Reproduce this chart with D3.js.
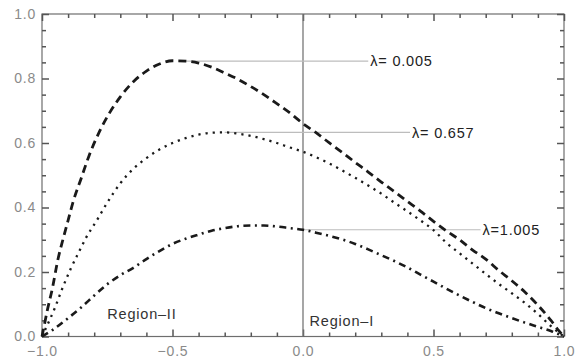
<!DOCTYPE html>
<html>
<head>
<meta charset="utf-8">
<script src="https://cdn.jsdelivr.net/npm/d3@7"></script>
<style>
  body { margin: 0; background: #fff; }
  svg { display: block; }
  .tick text { font-family: "Liberation Sans", Arial, sans-serif; font-size: 14px; letter-spacing: 0.8px; fill: #8a8a8a; }
  .tick line { stroke: #555; stroke-width: 1.5; }
  .lbl { font-family: "Liberation Sans", Arial, sans-serif; font-size: 14.5px; letter-spacing: 0.8px; fill: #222; }
</style>
</head>
<body>
<div id="chart"></div>
<script>
// values
const xs005 = [-1, -0.99, -0.98, -0.96, -0.94, -0.92, -0.90, -0.88, -0.85, -0.82, -0.78, -0.74, -0.70, -0.65, -0.60, -0.55, -0.50, -0.45, -0.40, -0.35, -0.30, -0.25, -0.20, -0.15, -0.10, -0.05, 0, 0.05, 0.10, 0.15, 0.20, 0.25, 0.30, 0.35, 0.40, 0.45, 0.50, 0.55, 0.60, 0.65, 0.70, 0.75, 0.80, 0.85, 0.90, 0.95, 0.98, 1];
const ys005 = [0, 0.04, 0.08, 0.15, 0.235, 0.30, 0.36, 0.42, 0.49, 0.56, 0.635, 0.695, 0.743, 0.79, 0.823, 0.845, 0.855, 0.854, 0.848, 0.835, 0.817, 0.798, 0.775, 0.75, 0.722, 0.693, 0.66, 0.632, 0.601, 0.571, 0.54, 0.51, 0.479, 0.449, 0.419, 0.389, 0.357, 0.327, 0.30, 0.268, 0.24, 0.205, 0.173, 0.138, 0.097, 0.05, 0.018, 0];

const xs657 = [-1, -0.98, -0.95, -0.925, -0.89, -0.86, -0.83, -0.79, -0.75, -0.70, -0.65, -0.60, -0.55, -0.50, -0.45, -0.40, -0.35, -0.30, -0.25, -0.20, -0.15, -0.10, -0.05, 0, 0.05, 0.10, 0.15, 0.20, 0.25, 0.30, 0.35, 0.40, 0.45, 0.50, 0.55, 0.60, 0.65, 0.70, 0.75, 0.80, 0.85, 0.90, 0.95, 1];
const ys657 = [0, 0.035, 0.09, 0.143, 0.21, 0.26, 0.308, 0.36, 0.415, 0.475, 0.52, 0.553, 0.58, 0.60, 0.615, 0.626, 0.632, 0.633, 0.629, 0.622, 0.612, 0.60, 0.586, 0.573, 0.556, 0.537, 0.515, 0.492, 0.468, 0.443, 0.415, 0.388, 0.36, 0.33, 0.29, 0.258, 0.226, 0.194, 0.163, 0.134, 0.104, 0.07, 0.032, 0];

const xs1005 = [-1, -0.96, -0.90, -0.85, -0.80, -0.75, -0.70, -0.65, -0.60, -0.55, -0.50, -0.45, -0.40, -0.35, -0.30, -0.25, -0.20, -0.15, -0.10, -0.05, 0, 0.05, 0.10, 0.15, 0.20, 0.25, 0.30, 0.35, 0.40, 0.45, 0.50, 0.55, 0.60, 0.65, 0.70, 0.75, 0.80, 0.85, 0.90, 0.95, 1];
const ys1005 = [0, 0.02, 0.057, 0.09, 0.127, 0.162, 0.19, 0.213, 0.24, 0.265, 0.287, 0.303, 0.316, 0.328, 0.336, 0.342, 0.344, 0.344, 0.341, 0.336, 0.331, 0.322, 0.312, 0.301, 0.287, 0.27, 0.252, 0.234, 0.214, 0.192, 0.17, 0.148, 0.127, 0.107, 0.088, 0.072, 0.057, 0.043, 0.03, 0.017, 0];

const xMajor = [-1, -0.5, 0, 0.5, 1];
const yMajor = [0, 0.2, 0.4, 0.6, 0.8, 1];

const series = [
  {name: 'λ= 0.005', xs: xs005, ys: ys005, dash: '8 5', width: 2.8, anchor: -0.45, labelAt: 0.25},
  {name: 'λ= 0.657', xs: xs657, ys: ys657, dash: '2.2 5', width: 2.3, anchor: -0.30, labelAt: 0.41},
  {name: 'λ=1.005', xs: xs1005, ys: ys1005, dash: '7 4.5 2 4.5', width: 2.6, anchor: 0, labelAt: 0.68},
];

const regions = [
  {text: 'Region\u2013II', x: -0.75, y: 0.053},
  {text: 'Region\u2013I', x: 0.025, y: 0.034},
];

const W = 584, H = 358;
const margin = {top: 14, right: 20, bottom: 21.5, left: 42};

const x = d3.scaleLinear().domain([-1, 1]).range([margin.left, W - margin.right]);
const y = d3.scaleLinear().domain([0, 1]).range([H - margin.bottom, margin.top]);

const svg = d3.select('#chart').append('svg')
  .attr('width', W)
  .attr('height', H);

const fmt = d3.format('.1f');
const xMinor = d3.range(-10, 11).map(i => i / 10).filter(v => !xMajor.some(m => Math.abs(m - v) < 1e-9));
const yMinor = d3.range(0, 21).map(i => i / 20).filter(v => !yMajor.some(m => Math.abs(m - v) < 1e-9));

svg.append('rect')
  .attr('x', x(-1)).attr('y', y(1))
  .attr('width', x(1) - x(-1)).attr('height', y(0) - y(1))
  .attr('fill', 'none').attr('stroke', '#6e6e6e').attr('stroke-width', 1.2);

// frame ticks point inward, like Mathematica
function ticks(axisFn, pos, dim, labelled) {
  const sc = dim === 'x' ? x : y;
  const gMaj = svg.append('g').attr('transform', pos)
    .call(axisFn(sc)
      .tickValues(dim === 'x' ? xMajor : yMajor)
      .tickSize(-7)
      .tickPadding(dim === 'x' ? 10 : 6)
      .tickFormat(labelled ? fmt : ''));
  gMaj.select('.domain').remove();
  const gMin = svg.append('g').attr('transform', pos)
    .call(axisFn(sc)
      .tickValues(dim === 'x' ? xMinor : yMinor)
      .tickSize(-4)
      .tickFormat(''));
  gMin.select('.domain').remove();
}

ticks(d3.axisBottom, `translate(0,${y(0)})`, 'x', true);
ticks(d3.axisTop, `translate(0,${y(1)})`, 'x', false);
ticks(d3.axisLeft, `translate(${x(-1)},0)`, 'y', true);
ticks(d3.axisRight, `translate(${x(1)},0)`, 'y', false);

// vertical axis at x = 0
svg.append('line')
  .attr('x1', x(0)).attr('x2', x(0))
  .attr('y1', y(0)).attr('y2', y(1))
  .attr('stroke', '#777').attr('stroke-width', 1.3);

// callout leader lines (drawn under the curves)
const callouts = svg.append('g');
series.forEach(s => {
  const i = s.xs.findIndex(v => Math.abs(v - s.anchor) < 1e-9);
  const yy = y(s.ys[i]);
  callouts.append('line')
    .attr('x1', x(s.anchor)).attr('x2', x(s.labelAt))
    .attr('y1', yy).attr('y2', yy)
    .attr('stroke', '#bdbdbd').attr('stroke-width', 1.2);
  callouts.append('text')
    .attr('class', 'lbl')
    .attr('x', x(s.labelAt) + 2)
    .attr('y', yy)
    .attr('dy', '0.36em')
    .text(s.name);
});

const line = d3.line()
  .x(d => x(d[0]))
  .y(d => y(d[1]))
  .curve(d3.curveMonotoneX);

svg.append('g').selectAll('path')
  .data(series)
  .enter().append('path')
    .attr('d', s => line(s.xs.map((v, i) => [v, s.ys[i]])))
    .attr('fill', 'none')
    .attr('stroke', '#1a1a1a')
    .attr('stroke-width', s => s.width)
    .attr('stroke-dasharray', s => s.dash);

svg.append('g').selectAll('text')
  .data(regions)
  .enter().append('text')
    .attr('class', 'lbl')
    .attr('x', d => x(d.x))
    .attr('y', d => y(d.y))
    .style('fill', '#333')
    .text(d => d.text);
</script>
</body>
</html>
